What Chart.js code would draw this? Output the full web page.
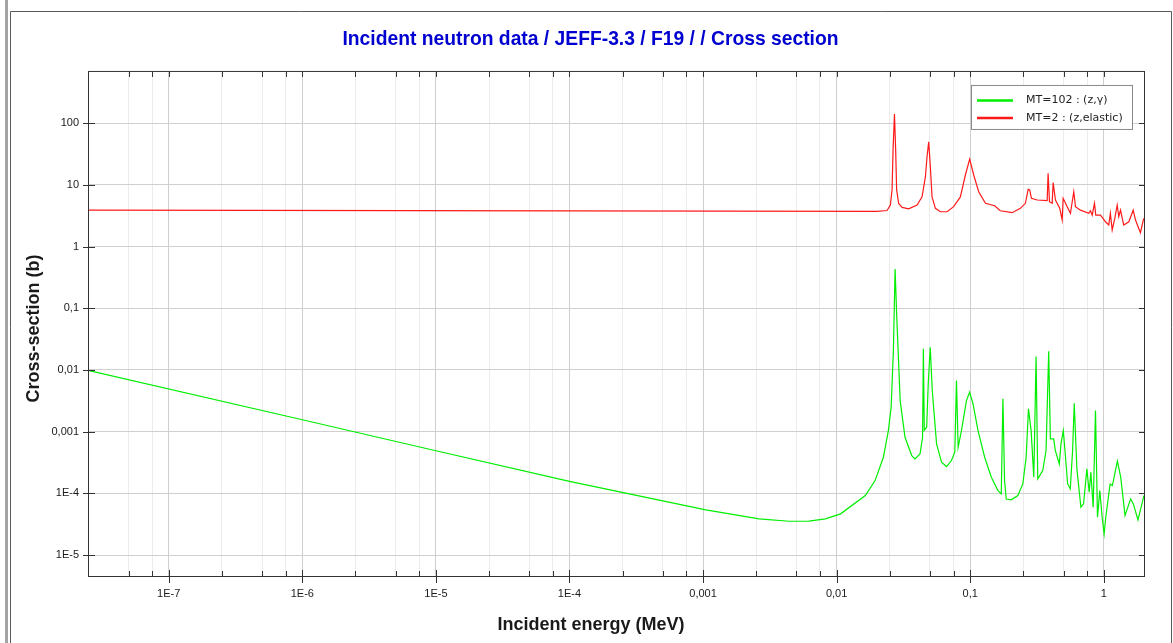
<!DOCTYPE html>
<html>
<head>
<meta charset="utf-8">
<title>Incident neutron data / JEFF-3.3 / F19 / / Cross section</title>
<script src="https://cdn.jsdelivr.net/npm/chart.js@4.4.1/dist/chart.umd.min.js"></script>
<style>
  html, body { margin: 0; padding: 0; background: #fff; }
  #wrap { position: relative; width: 1173px; height: 643px; }
</style>
</head>
<body>
<div id="wrap"><canvas id="xs" width="1173" height="643"></canvas></div>
<script>
// MT=102 capture: incident energy (MeV) and cross-section (b)
const captureEnergy = [
  2.53e-8, 1e-6, 1e-5, 1e-4, 1.05e-3, 2.63e-3, 4.4e-3, 6.2e-3, 8.24e-3, 0.0107,
  0.0164, 0.0194, 0.0224, 0.0244, 0.0256, 0.0266, 0.0274, 0.0282, 0.0299, 0.0325,
  0.0365, 0.0386, 0.0421, 0.0440, 0.0446, 0.0453, 0.0472, 0.0485, 0.0502, 0.0520,
  0.056, 0.061, 0.0665, 0.0724, 0.0767, 0.0789, 0.0812, 0.086, 0.0937, 0.099,
  0.105, 0.1144, 0.1283, 0.1439, 0.1613, 0.1708, 0.1757, 0.1808, 0.1861, 0.2028,
  0.2274, 0.2477, 0.2623, 0.2730, 0.2858, 0.2992, 0.3113, 0.3204, 0.3491, 0.3697,
  0.3869, 0.3982, 0.4217, 0.4338, 0.4647, 0.4782, 0.4977, 0.5122, 0.5363, 0.5612,
  0.5841, 0.601, 0.629, 0.674, 0.7055, 0.747, 0.7775, 0.80, 0.8327, 0.8669,
  0.897, 0.9337, 0.9718, 1.006, 1.035, 1.115, 1.16, 1.264, 1.339, 1.442,
  1.589, 1.664, 1.803, 1.998
];
const captureXs = [
  0.0098, 1.56e-3, 4.9e-4, 1.56e-4, 5.4e-5, 3.86e-5, 3.53e-5, 3.55e-5, 3.86e-5, 4.65e-5,
  9.2e-5, 1.61e-4, 3.85e-4, 1.04e-3, 2.49e-3, 0.0206, 0.435, 0.0716, 3.19e-3, 8.12e-4,
  4.1e-4, 3.62e-4, 4.36e-4, 8.1e-4, 0.022, 1.05e-3, 1.18e-3, 5.94e-3, 0.0234, 4.64e-3,
  6.34e-4, 3.2e-4, 2.72e-4, 3.4e-4, 4.64e-4, 6.73e-3, 5.59e-4, 1.04e-3, 3.19e-3, 4.36e-3,
  2.82e-3, 1.04e-3, 3.85e-4, 1.83e-4, 1.11e-4, 9.8e-5, 3.4e-3, 1.61e-4, 8.1e-5, 7.84e-5,
  9.21e-5, 1.42e-4, 3.85e-4, 2.34e-3, 1.04e-3, 1.83e-4, 0.0165, 1.72e-4, 2.34e-4, 4.94e-4,
  0.0201, 7.63e-4, 7.63e-4, 4.94e-4, 3.0e-4, 6.34e-4, 1.04e-3, 4.94e-4, 1.42e-4, 1.18e-4,
  4.94e-4, 2.89e-3, 2.49e-4, 5.96e-5, 6.75e-5, 2.49e-4, 1.04e-4, 2.2e-4, 5.96e-5, 2.2e-3,
  4.1e-5, 1.11e-4, 4.1e-5, 2.2e-5, 4.1e-5, 1.42e-4, 1.34e-4, 3.32e-4, 1.83e-4, 4.37e-5,
  8.13e-5, 6.75e-5, 3.72e-5, 9.2e-5
];

// MT=2 elastic: incident energy (MeV) and cross-section (b)
const elasticEnergy = [
  2.53e-8, 1e-4, 0.02, 0.02385, 0.02525, 0.0260, 0.02645, 0.0271, 0.02767, 0.02814,
  0.02913, 0.0309, 0.0346, 0.040, 0.0436, 0.0462, 0.0475, 0.0489, 0.0503, 0.0518,
  0.0549, 0.0598, 0.0671, 0.0752, 0.0844, 0.092, 0.0991, 0.1062, 0.1158, 0.130,
  0.1524, 0.168, 0.206, 0.2375, 0.259, 0.2715, 0.279, 0.2872, 0.317, 0.3767,
  0.383, 0.392, 0.4107, 0.4178, 0.4346, 0.468, 0.488, 0.4965, 0.532, 0.563,
  0.596, 0.614, 0.669, 0.772, 0.795, 0.819, 0.852, 0.871, 0.945, 1.03,
  1.09, 1.12, 1.156, 1.209, 1.26, 1.295, 1.334, 1.41, 1.54, 1.66,
  1.728, 1.88, 1.99
];
const elasticXs = [
  3.9, 3.8, 3.72, 3.85, 4.7, 8.3, 36.7, 141, 36.7, 8.3,
  5.0, 4.33, 4.1, 4.73, 6.4, 13.6, 28.6, 50, 19.8, 6.4,
  4.18, 3.68, 3.68, 4.44, 6.4, 14.5, 26.3, 14.5, 7.75, 5.04,
  4.6, 3.82, 3.55, 4.18, 5.04, 8.5, 8.3, 6.07, 5.7, 5.55,
  15.4, 5.35, 5.04, 10.9, 5.7, 4.18, 2.7, 6.07, 4.43, 3.47,
  7.77, 4.43, 3.9, 3.47, 3.82, 3.25, 5.04, 3.25, 3.25, 2.53,
  2.24, 3.47, 1.86, 2.87, 4.73, 3.05, 3.9, 2.24, 2.53, 3.9,
  2.7, 1.68, 2.87
];

// axis ticks
const xMajorTicks = [1e-7, 1e-6, 1e-5, 1e-4, 1e-3, 1e-2, 1e-1, 1];
const xMajorLabels = ['1E-7', '1E-6', '1E-5', '1E-4', '0,001', '0,01', '0,1', '1'];
const xMinorSteps = [2.5, 5, 7.5];
const yMajorTicks = [1e-5, 1e-4, 1e-3, 1e-2, 1e-1, 1, 10, 100];
const yMajorLabels = ['1E-5', '1E-4', '0,001', '0,01', '0,1', '1', '10', '100'];

const xAxisTitle = 'Incident energy (MeV)';
const yAxisTitle = 'Cross-section (b)';

const X_MIN = 2.53e-8, X_MAX = 2.0;
const Y_MIN = 4.57e-6, Y_MAX = 679;

const sansFont = 'Liberation Sans, Arial, Helvetica, sans-serif';
Chart.defaults.font.family = sansFont;

function sameValue(a, b) { return Math.abs(a / b - 1) < 1e-6; }

function labelFor(v, ticks, labels) {
  const i = ticks.findIndex(t => sameValue(t, v));
  return i < 0 ? '' : labels[i];
}

function pairs(xs, ys) {
  return xs.map((x, i) => ({ x: x, y: ys[i] }));
}

// minor marks at 2.5, 5 and 7.5 of every decade
function buildXTicks(scale) {
  const list = xMajorTicks.map(v => ({ value: v, major: true }));
  [1e-8].concat(xMajorTicks).forEach(d => {
    xMinorSteps.forEach(m => {
      const v = d * m;
      if (v >= X_MIN && v <= X_MAX) list.push({ value: v, major: false });
    });
  });
  list.sort((a, b) => a.value - b.value);
  scale.ticks = list;
}

// frame, outer border, tick marks, axis titles and boxed legend
const framePlugin = {
  id: 'frame',
  beforeDraw(chart) {
    const { ctx, width, height } = chart;
    ctx.save();
    ctx.fillStyle = '#fff';
    ctx.fillRect(0, 0, width, height);
    ctx.fillStyle = '#a4a4a4';
    ctx.fillRect(5, 0, 3, height);
    ctx.strokeStyle = '#5a5a5a';
    ctx.lineWidth = 1;
    ctx.beginPath();
    ctx.moveTo(10.5, height);
    ctx.lineTo(10.5, 11.5);
    ctx.lineTo(1171.5, 11.5);
    ctx.lineTo(1171.5, height);
    ctx.stroke();
    ctx.restore();
  },
  afterDraw(chart) {
    const { ctx, chartArea: a, scales } = chart;
    const sx = scales.x, sy = scales.y;
    ctx.save();
    ctx.strokeStyle = '#333';
    ctx.lineWidth = 1;
    ctx.strokeRect(a.left - 0.5, a.top - 0.5, a.right - a.left + 1, a.bottom - a.top + 1);

    ctx.beginPath();
    sx.ticks.forEach(t => {
      const px = Math.round(sx.getPixelForValue(t.value)) + 0.5;
      ctx.moveTo(px, a.top);
      ctx.lineTo(px, a.top + 5);
      if (t.major) {
        ctx.moveTo(px, a.bottom - 6);
        ctx.lineTo(px, a.bottom + 7);
      } else {
        ctx.moveTo(px, a.bottom - 5);
        ctx.lineTo(px, a.bottom);
      }
    });
    sy.ticks.forEach(t => {
      const py = Math.round(sy.getPixelForValue(t.value)) + 0.5;
      ctx.moveTo(a.left - 6, py);
      ctx.lineTo(a.left + 6, py);
      ctx.moveTo(a.right - 5, py);
      ctx.lineTo(a.right, py);
    });
    ctx.stroke();

    // axis titles, centred on the window rather than on the plot
    ctx.fillStyle = '#1a1a1a';
    ctx.font = 'bold 18px ' + sansFont;
    ctx.textAlign = 'center';
    ctx.textBaseline = 'middle';
    ctx.fillText(xAxisTitle, 591, 625.5);
    ctx.save();
    ctx.translate(34.5, 328.5);
    ctx.rotate(-Math.PI / 2);
    ctx.fillText(yAxisTitle, 0, 0);
    ctx.restore();

    // legend box in the upper right corner
    const bx = a.right - 173, by = a.top + 13, bw = 161, bh = 44;
    ctx.fillStyle = '#fff';
    ctx.fillRect(bx, by, bw, bh);
    ctx.strokeStyle = '#8a8a8a';
    ctx.strokeRect(bx + 0.5, by + 0.5, bw, bh);
    ctx.font = '11px "DejaVu Sans", Verdana, sans-serif';
    ctx.textBaseline = 'middle';
    ctx.textAlign = 'left';
    chart.data.datasets.forEach((ds, i) => {
      const ly = by + 15.5 + i * 17.5;
      ctx.strokeStyle = ds.borderColor;
      ctx.lineWidth = 2.5;
      ctx.beginPath();
      ctx.moveTo(bx + 6, ly);
      ctx.lineTo(bx + 42, ly);
      ctx.stroke();
      ctx.fillStyle = '#222';
      ctx.fillText(ds.label, bx + 55, ly);
    });
    ctx.restore();
  }
};

new Chart(document.getElementById('xs'), {
  type: 'line',
  data: {
    datasets: [
      {
        label: 'MT=102 : (z,γ)',
        data: pairs(captureEnergy, captureXs),
        xAxisID: 'x',
        yAxisID: 'y',
        borderColor: '#00ee00',
        borderWidth: 1.2,
        pointRadius: 0,
        tension: 0,
        fill: false
      },
      {
        label: 'MT=2 : (z,elastic)',
        data: pairs(elasticEnergy, elasticXs),
        xAxisID: 'x',
        yAxisID: 'y',
        borderColor: '#ff1a1a',
        borderWidth: 1.2,
        pointRadius: 0,
        tension: 0,
        fill: false
      }
    ]
  },
  options: {
    responsive: false,
    animation: false,
    events: [],
    layout: { padding: { left: 8, right: 0, top: 0, bottom: 0 } },
    plugins: {
      legend: { display: false },
      tooltip: { enabled: false },
      title: {
        display: true,
        text: 'Incident neutron data / JEFF-3.3 / F19 / / Cross section',
        color: '#0000d0',
        font: { size: 19.3, weight: 'bold' },
        padding: { top: 28.4, bottom: 20.4 }
      }
    },
    scales: {
      x: {
        type: 'logarithmic',
        position: 'bottom',
        min: X_MIN,
        max: X_MAX,
        afterBuildTicks: buildXTicks,
        afterFit: s => { s.height = 67; },
        border: { display: false },
        grid: {
          drawTicks: false,
          lineWidth: 1,
          color: c => (c.tick && c.tick.major) ? '#cfcfcf' : '#ececec'
        },
        ticks: {
          autoSkip: false,
          maxRotation: 0,
          minRotation: 0,
          padding: 11,
          color: '#1a1a1a',
          font: { size: 11 },
          callback: v => labelFor(v, xMajorTicks, xMajorLabels)
        },
        title: { display: false }
      },
      y: {
        type: 'logarithmic',
        position: 'left',
        min: Y_MIN,
        max: Y_MAX,
        afterBuildTicks: s => { s.ticks = yMajorTicks.map(v => ({ value: v, major: true })); },
        afterFit: s => { s.width = 81; },
        border: { display: false },
        grid: { drawTicks: false, lineWidth: 1, color: '#cfcfcf' },
        ticks: {
          autoSkip: false,
          padding: 10,
          color: '#1a1a1a',
          font: { size: 11 },
          callback: v => labelFor(v, yMajorTicks, yMajorLabels)
        },
        title: { display: false }
      },
      // empty strip on the right of the plot frame
      gutter: {
        type: 'linear',
        position: 'right',
        grid: { display: false },
        border: { display: false },
        ticks: { display: false },
        afterFit: s => { s.width = 29; }
      }
    }
  },
  plugins: [framePlugin]
});
</script>
</body>
</html>
